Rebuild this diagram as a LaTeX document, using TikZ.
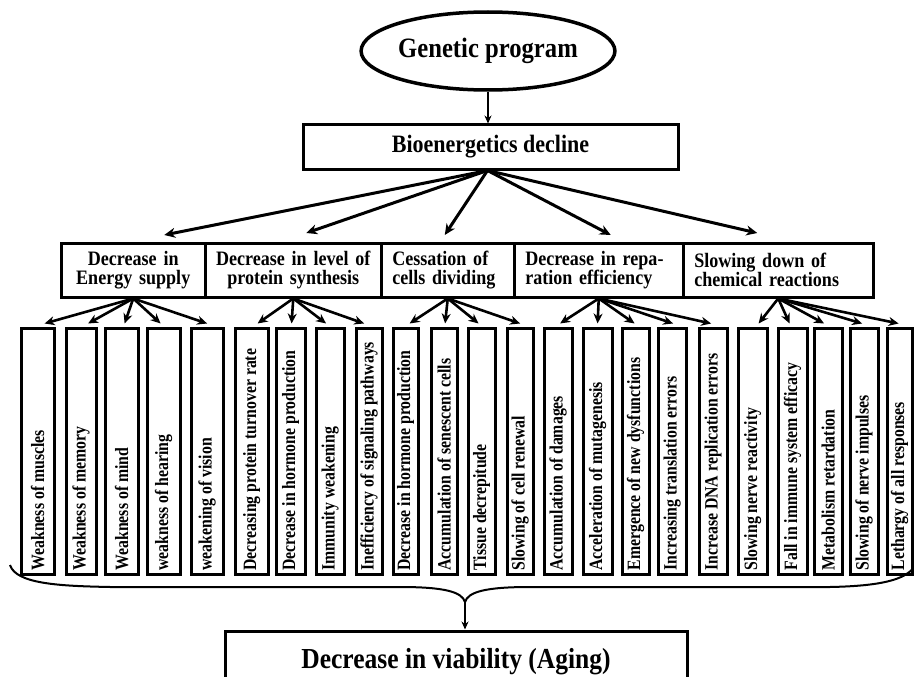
\documentclass[tikz,border=0pt]{standalone}
\usepackage{fontspec}
\setmainfont{Liberation Serif}
\newfontfamily\condfont[FakeStretch=0.88]{Liberation Serif}
\newfontfamily\vcondfont[FakeStretch=0.84]{Liberation Serif}
\usetikzlibrary{arrows.meta,shapes.geometric}
\begin{document}
\begin{tikzpicture}[x=1pt,y=-1pt,
  ell/.style={draw, ellipse, line width=3.5pt, minimum width=252pt, minimum height=78pt, inner sep=0pt,
    font=\condfont\fontsize{28}{30}\selectfont\bfseries},
  topbox/.style={draw, line width=3pt, minimum width=375pt, minimum height=44pt, inner sep=0pt,
    font=\condfont\fontsize{25}{27}\selectfont\bfseries},
  lvtwo/.style={draw, line width=2.5pt, minimum height=54pt, inner ysep=0pt,
    anchor=north west, font={\condfont\fontsize{20.5}{19}\selectfont\bfseries\spaceskip=4pt\relax}},
  ctrtwo/.style={lvtwo, inner xsep=3pt, align=center},
  lefttwo/.style={lvtwo, inner xsep=11pt, align=left},
  vbox/.style={draw, line width=3.2pt, minimum height=246pt, inner sep=0pt, anchor=north west},
  vtext/.style={rotate=90, anchor=west, inner sep=0pt, font=\vcondfont\fontsize{18.8}{19}\selectfont\bfseries},
  arr/.style={-{Stealth[length=10pt,width=9pt]}, line width=2.6pt},
  fanarr/.style={-{Stealth[length=11pt,width=10pt]}, line width=3pt},
  finalbox/.style={draw, line width=3pt, minimum width=462pt, anchor=north, inner xsep=0pt, inner ysep=4pt,
    text height=33pt, text depth=40pt, font=\condfont\fontsize{29}{30}\selectfont\bfseries},
]
\useasboundingbox (0,0) rectangle (914,677);

\node[ell] (gen) at (488,51) {Genetic program};
\node[topbox] (bio) at (490.5,147) {Bioenergetics decline};
\draw[-{Stealth[length=8pt,width=7pt]}, line width=2pt] (gen.south) -- (gen.south |- bio.north);

\node[ctrtwo, text width=144pt-6pt] (l2a) at (60,242) {Decrease in\\Energy supply};
\node[ctrtwo, text width=176pt-6pt] (l2b) at (204,242) {Decrease in level of\\protein synthesis};
\node[lefttwo, text width=133pt-22pt] (l2c) at (380,242) {Cessation of\\cells dividing};
\node[lefttwo, text width=169pt-22pt] (l2d) at (513,242) {Decrease in repa-\\ration efficiency};
\node[lefttwo, text width=190pt-22pt] (l2e) at (682,242) {Slowing down of\\chemical reactions};

\draw[fanarr] ([xshift=-3pt]bio.south) -- ([xshift=31pt,yshift=7pt]l2a.north);
\draw[fanarr] ([xshift=-3pt]bio.south) -- ([xshift=13pt,yshift=9pt]l2b.north);
\draw[fanarr] ([xshift=-3pt]bio.south) -- ([xshift=-3pt,yshift=7pt]l2c.north);
\draw[fanarr] ([xshift=-3pt]bio.south) -- ([xshift=12pt,yshift=7pt]l2d.north);
\draw[fanarr] ([xshift=-3pt]bio.south) -- ([xshift=-21pt,yshift=9pt]l2e.north);

\foreach \i/\a/\b/\t/\p/\o in {
  1/18/54/{Weakness of muscles}/a/7,
  2/63/96/{Weakness of memory}/a/7,
  3/102/138/{Weakness of mind}/a/3,
  4/144/180/{weakness of hearing}/a/-3,
  5/188/223/{weakening of vision}/a/0,
  6/232/268/{Decreasing protein turnover rate}/b/6,
  7/273/305/{Decrease in hormone production}/b/1,
  8/313/344/{Immunity weakening}/b/-4,
  9/353/382/{Inefficiency of signaling pathways}/b/-5,
  10/390/418/{Decrease in hormone production}/c/4,
  11/428/457/{Accumulation of senescent cells}/c/1,
  12/465/495/{Tissue decrepitude}/c/-3,
  13/504/533/{Slowing of cell renewal}/c/0,
  14/541/572/{Accumulation of damages}/d/2,
  15/580/612/{Acceleration of mutagenesis}/d/0,
  16/619/649/{Emergence of new dysfunctions}/d/-1,
  17/655/686/{Increasing translation errors}/d/1,
  18/696/727/{Increase DNA replication errors}/d/-2,
  19/735/767/{Slowing nerve reactivity}/e/6,
  20/775/807/{Fall in immune system efficacy}/e/-3,
  21/811/842/{Metabolism retardation}/e/-4,
  22/847/878/{Slowing of nerve impulses}/e/-2,
  23/884/912/{Lethargy of all responses}/e/-1}{
  \node[vbox, minimum width=\b-\a-3] (v\i) at (\a+1.5,326.5) {};
  \node[vtext] (vt\i) at ([yshift=5pt]v\i.south) {\t};
  \draw[arr] (l2\p.south) -- ([xshift=\o pt,yshift=3pt]v\i.north);
}

\coordinate (braceL) at (10,565);
\coordinate (braceR) at (914,567);
\coordinate (cusp) at (465,602);
\draw[line width=2pt] (braceL) .. controls (16,584) and (60,586) .. (110,587)
  -- (400,587) .. controls (445,587) and (462,592) .. (cusp)
  .. controls (468,592) and (485,587) .. (530,587)
  -- (830,587) .. controls (880,586) and (905,580) .. (braceR);

\node[finalbox] (aging) at (456,629.5) {Decrease in viability (Aging)};
\draw[-{Stealth[length=8pt,width=7pt]}, line width=2pt] (cusp) -- (cusp |- aging.north);
\end{tikzpicture}
\end{document}
